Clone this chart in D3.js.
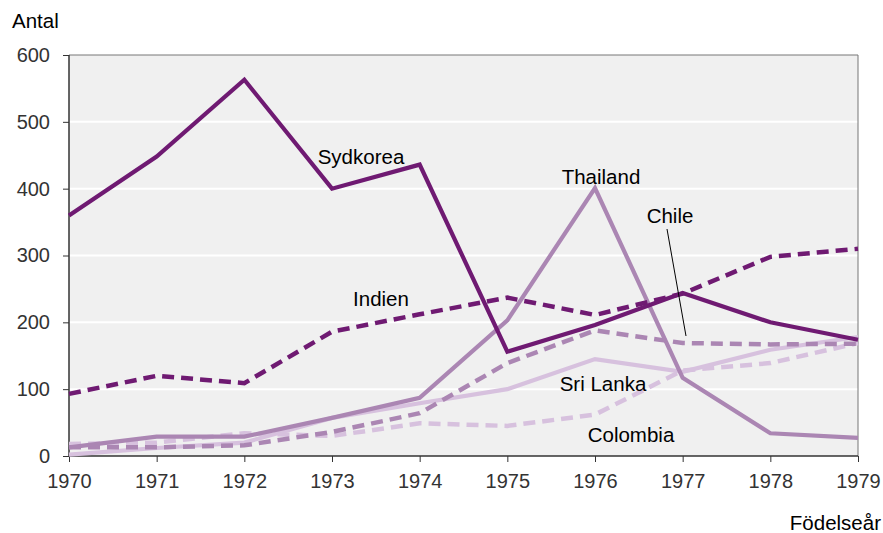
<!DOCTYPE html>
<html>
<head>
<meta charset="utf-8">
<script src="https://cdn.jsdelivr.net/npm/d3@7"></script>
<style>
  body { margin: 0; background: #fff; }
  svg { display: block; font-family: "Liberation Sans", Arial, sans-serif; }
</style>
</head>
<body>
<svg width="883" height="533"></svg>
<script>
// data
var years = [1970, 1971, 1972, 1973, 1974, 1975, 1976, 1977, 1978, 1979];
var yTicks = [0, 100, 200, 300, 400, 500, 600];

var sydkorea = [360, 448, 563, 400, 436, 156, 196, 244, 200, 174];
var indien   = [93, 120, 109, 186, 212, 237, 211, 243, 298, 310];
var thailand = [13, 29, 29, 57, 87, 203, 401, 117, 34, 27];
var chile    = [13, 13, 16, 36, 64, 139, 188, 169, 167, 168];
var srilanka = [2, 12, 20, 57, 79, 100, 145, 126, 159, 178];
var colombia = [18, 20, 34, 30, 49, 45, 62, 128, 139, 169];

var dark = "#6f1a72", mid = "#ab86b3", light = "#d7c1de";

var series = [
  { name: "Colombia", values: colombia, color: light, dash: true },
  { name: "Sri Lanka", values: srilanka, color: light, dash: false },
  { name: "Chile", values: chile, color: mid, dash: true },
  { name: "Thailand", values: thailand, color: mid, dash: false },
  { name: "Indien", values: indien, color: dark, dash: true },
  { name: "Sydkorea", values: sydkorea, color: dark, dash: false }
];

var svg = d3.select("svg");
var mLeft = 69, mRight = 858, mTop = 55, mBottom = 456;

var x = d3.scaleLinear().domain([1970, 1979]).range([mLeft, mRight]);
var y = d3.scaleLinear().domain([0, 600]).range([mBottom, mTop]);

// plot background
svg.append("rect")
  .attr("x", mLeft).attr("y", mTop)
  .attr("width", mRight - mLeft).attr("height", mBottom - mTop)
  .attr("fill", "#f0f0f0");

// gridlines
svg.append("g").selectAll("line")
  .data(yTicks.filter(function(d) { return d > 0 && d < 600; }))
  .join("line")
  .attr("x1", mLeft).attr("x2", mRight)
  .attr("y1", y).attr("y2", y)
  .attr("stroke", "#fff").attr("stroke-width", 2);

// frame top / right
svg.append("path")
  .attr("d", "M" + mLeft + "," + mTop + "H" + mRight + "V" + mBottom)
  .attr("fill", "none").attr("stroke", "#777").attr("stroke-width", 1);

// axes
var yAxis = svg.append("g")
  .attr("transform", "translate(" + mLeft + ",0)")
  .call(d3.axisLeft(y).tickValues(yTicks).tickSize(6).tickPadding(13));
var xAxis = svg.append("g")
  .attr("transform", "translate(0," + mBottom + ")")
  .call(d3.axisBottom(x).tickValues(years).tickFormat(d3.format("d")).tickSize(6).tickPadding(12));

[yAxis, xAxis].forEach(function(a) {
  a.select(".domain").attr("stroke", "#333").attr("stroke-width", 1.5);
  a.selectAll(".tick line").attr("stroke", "#333");
  a.selectAll("text").attr("fill", "#333").style("font-size", "20px")
    .style("font-family", "Liberation Sans, Arial, sans-serif");
});
xAxis.select(".domain").attr("d", "M" + mLeft + ",0H" + mRight);
yAxis.select(".domain").attr("d", "M0," + mTop + "V" + mBottom);

// lines
var line = d3.line()
  .x(function(d, i) { return x(years[i]); })
  .y(function(d) { return y(d); });

svg.append("g").selectAll("path")
  .data(series)
  .join("path")
  .attr("d", function(d) { return line(d.values); })
  .attr("fill", "none")
  .attr("stroke", function(d) { return d.color; })
  .attr("stroke-width", function(d) { return d.dash ? 4.5 : 4.2; })
  .attr("stroke-dasharray", function(d) { return d.dash ? "12,7" : null; })
  .attr("stroke-linejoin", "miter");

// labels
var labels = [
  { t: "Sydkorea", x: 361, y: 164 },
  { t: "Thailand", x: 601, y: 184 },
  { t: "Chile", x: 670, y: 223 },
  { t: "Indien", x: 381, y: 306 },
  { t: "Sri Lanka", x: 603, y: 391 },
  { t: "Colombia", x: 631, y: 442 }
];
svg.append("g").selectAll("text")
  .data(labels)
  .join("text")
  .attr("x", function(d) { return d.x; })
  .attr("y", function(d) { return d.y; })
  .attr("text-anchor", "middle")
  .style("font-size", "20.5px")
  .attr("fill", "#000")
  .text(function(d) { return d.t; });

// Chile leader line
svg.append("line")
  .attr("x1", 667).attr("y1", 229)
  .attr("x2", 686).attr("y2", 336)
  .attr("stroke", "#000").attr("stroke-width", 1);

svg.append("text").attr("x", 12).attr("y", 28)
  .style("font-size", "20.5px").attr("fill", "#000").text("Antal");
svg.append("text").attr("x", 881).attr("y", 530)
  .attr("text-anchor", "end")
  .style("font-size", "20.5px").attr("fill", "#000").text("Födelseår");
</script>
</body>
</html>
